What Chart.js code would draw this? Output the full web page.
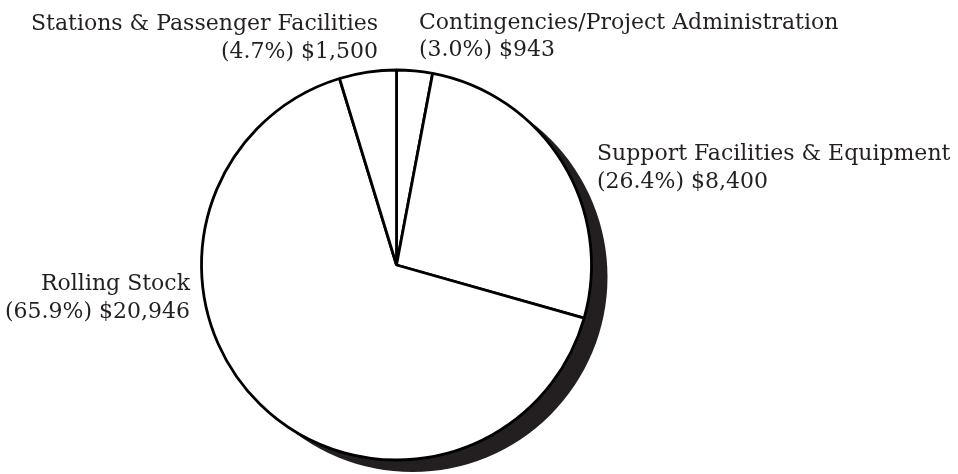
<!DOCTYPE html>
<html>
<head>
<meta charset="utf-8">
<script src="https://cdn.jsdelivr.net/npm/chart.js@4/dist/chart.umd.min.js"></script>
<style>
  html, body { margin: 0; padding: 0; background: #ffffff; }
  #wrap { width: 958px; height: 474px; }
</style>
</head>
<body>
<div id="wrap"><canvas id="pie" width="958" height="474"></canvas></div>
<script>
// Capital cost breakdown (thousands), clockwise from 12 o'clock
const categories = [
  'Contingencies/Project Administration',
  'Support Facilities & Equipment',
  'Rolling Stock',
  'Stations & Passenger Facilities'
];
const costs = [943, 8400, 20946, 1500];
const percentLabels = ['(3.0%) $943', '(26.4%) $8,400', '(65.9%) $20,946', '(4.7%) $1,500'];

// Where each two-line caption sits, relative to the pie centre
const captionPlacement = [
  { dx: 22.5,  dy: -236.5, align: 'left'  },
  { dx: 200.5, dy: -105, align: 'left' },
  { dx: -206.5, dy: 25, align: 'right' },
  { dx: -18.5, dy: -235, align: 'right' }
];

const INK = '#231f20';
const FONT_PX = 22;
const LINE_GAP = 27.5;

const shadowPlugin = {
  id: 'pieShadow',
  beforeDatasetsDraw(chart) {
    const arc = chart.getDatasetMeta(0).data[0];
    if (!arc) return;
    const { x, y, outerRadius } = arc.getProps(['x', 'y', 'outerRadius'], true);
    const ctx = chart.ctx;
    ctx.save();
    ctx.fillStyle = INK;
    ctx.beginPath();
    ctx.arc(x + 16, y + 12, outerRadius, 0, Math.PI * 2);
    ctx.fill();
    ctx.restore();
  }
};

const captionPlugin = {
  id: 'captions',
  afterDraw(chart) {
    const arc = chart.getDatasetMeta(0).data[0];
    if (!arc) return;
    const { x, y } = arc.getProps(['x', 'y'], true);
    const ctx = chart.ctx;
    ctx.save();
    ctx.fillStyle = INK;
    ctx.font = FONT_PX + 'px "DejaVu Serif", serif';
    ctx.textBaseline = 'alphabetic';
    categories.forEach((name, i) => {
      const p = captionPlacement[i];
      ctx.textAlign = p.align;
      ctx.fillText(name, x + p.dx, y + p.dy);
      ctx.fillText(percentLabels[i], x + p.dx, y + p.dy + LINE_GAP);
    });
    ctx.restore();
  }
};

new Chart(document.getElementById('pie'), {
  type: 'pie',
  data: {
    labels: categories,
    datasets: [{
      data: costs,
      backgroundColor: '#ffffff',
      borderColor: '#000000',
      borderWidth: 2.8,
      hoverOffset: 0
    }]
  },
  options: {
    responsive: false,
    animation: false,
    radius: 195,
    layout: { padding: { left: 201.5, right: 366.5, top: 70, bottom: 14 } },
    plugins: {
      legend: { display: false },
      tooltip: { enabled: false }
    },
    events: []
  },
  plugins: [shadowPlugin, captionPlugin]
});
</script>
</body>
</html>
